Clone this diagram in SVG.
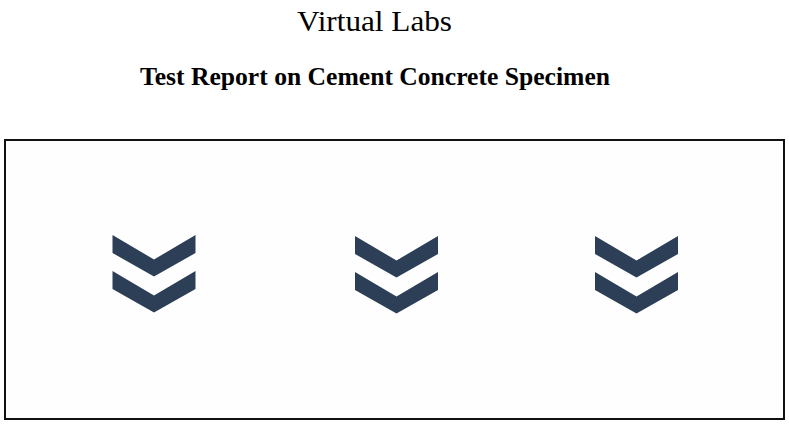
<svg xmlns="http://www.w3.org/2000/svg" width="789" height="424" viewBox="0 0 789 424">
  <style>
    .title { font-family: "Liberation Serif", "Times New Roman", serif; fill: #000; }
    .chev { fill: #2d3f56; }
    .frame { fill: #fefefe; stroke: #111; stroke-width: 2; }
  </style>
  <defs>
    <g id="chevrons">
      <polygon points="-41.5,0 0,24.5 41.5,0 41.5,18 0,41.5 -41.5,18"/>
      <polygon points="-41.5,36 0,60.5 41.5,36 41.5,54 0,77.5 -41.5,54"/>
    </g>
  </defs>
  <rect width="789" height="424" fill="#ffffff"/>
  <g id="header">
    <text class="title" x="297" y="31" font-size="29" textLength="155" lengthAdjust="spacingAndGlyphs">Virtual Labs</text>
    <text class="title" x="140" y="84.5" font-size="24.5" font-weight="bold" textLength="470" lengthAdjust="spacingAndGlyphs">Test Report on Cement Concrete Specimen</text>
  </g>
  <g id="panel">
    <rect class="frame" x="5" y="140" width="779" height="279"/>
  </g>
  <g id="node-1" class="chev">
    <use href="#chevrons" transform="translate(154,235)"/>
  </g>
  <g id="node-2" class="chev">
    <use href="#chevrons" transform="translate(396.5,236)"/>
  </g>
  <g id="node-3" class="chev">
    <use href="#chevrons" transform="translate(636.5,236)"/>
  </g>
  <g id="connectors"></g>
</svg>
